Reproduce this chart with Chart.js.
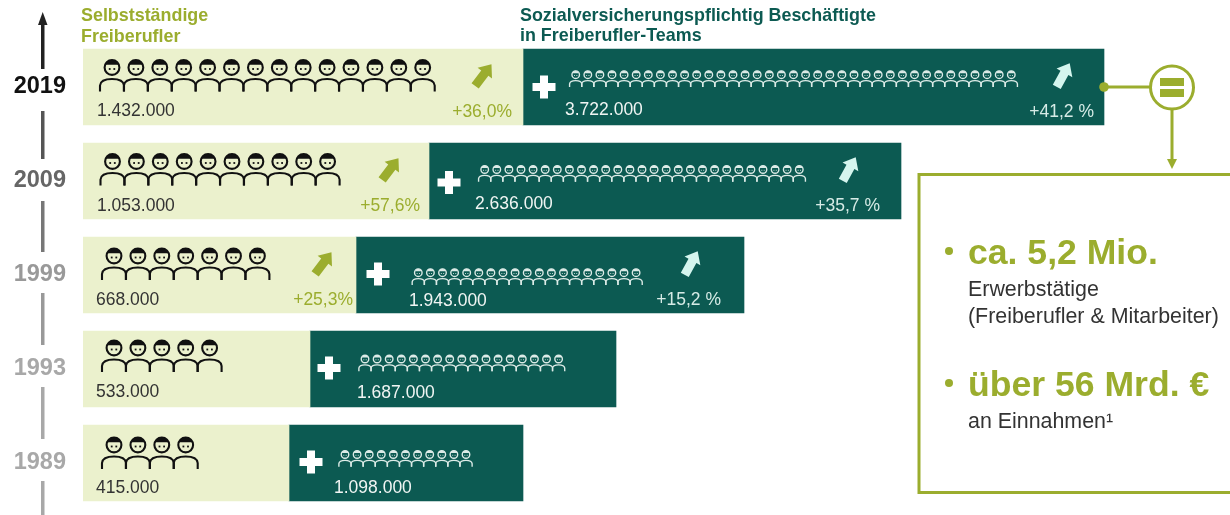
<!DOCTYPE html>
<html>
<head>
<meta charset="utf-8">
<title>Freiberufler</title>
<script src="https://cdn.jsdelivr.net/npm/chart.js@4"></script>
<style>
  html, body { margin: 0; padding: 0; background: #fff; }
  canvas { display: block; }
</style>
</head>
<body>
<canvas id="myChart" width="1230" height="515"></canvas>
<script>
const years = ['2019', '2009', '1999', '1993', '1989'];
// bars in the picture are not to scale with their labels, so lengths are read off separately
const selfLengths = [440, 346, 273, 227, 206];
const staffLengths = [581, 472, 388, 306, 234];
const selfLabels = ['1.432.000', '1.053.000', '668.000', '533.000', '415.000'];
const staffLabels = ['3.722.000', '2.636.000', '1.943.000', '1.687.000', '1.098.000'];
const selfGrowth = ['+36,0%', '+57,6%', '+25,3%', null, null];
const staffGrowth = ['+41,2 %', '+35,7 %', '+15,2 %', null, null];
const selfIcons = [14, 10, 7, 5, 4];
const staffIcons = [37, 27, 19, 17, 11];

const font = "'Liberation Sans', Arial, sans-serif";
const green = '#9bad2e';
const pale = '#ebf1cd';
const teal = '#0c5a52';
const yearColors = ['#111111', '#666666', '#999999', '#a8a8a8', '#a8a8a8'];

// row details, offsets from the bar start or the bar centre
const selfIconX = [29, 29.5, 31, 31, 31];
const selfIconY = [-19.5, -19.5, -19, -21, -18];
const staffIconX = [52.7, 55.7, 62.3, 55, 56];
const staffIconY = [-12.3, -11.5, -2.3, -10, -8.5];
const selfTextX = [14, 14, 13, 13, 13];
const selfTextY = [29, 29.5, 30, 27.5, 29.5];
const staffTextX = [42, 46, 53, 47, 45];
const staffTextY = [28, 28, 31, 29, 30];
const plusX = [21, 20, 22, 19, 22];
const plusY = [0, 1.5, -1, -1, -1];
const selfArrowX = [-40, -39, -33];
const selfGrowthX = [-11, -9, -3];
const staffArrowX = [-41, -52, -53];
const staffGrowthX = [-10, -21, -23];

function text(ctx, str, x, y, size, color, bold, align) {
  ctx.font = (bold ? 'bold ' : '') + size + 'px ' + font;
  ctx.fillStyle = color;
  ctx.textAlign = align || 'left';
  ctx.textBaseline = 'alphabetic';
  ctx.fillText(str, x, y);
}

function person(ctx, x, y, s, color, lw) {
  ctx.save();
  ctx.translate(x, y);
  ctx.scale(s, s);
  ctx.strokeStyle = color;
  ctx.fillStyle = color;
  ctx.lineWidth = lw;
  ctx.beginPath();
  ctx.arc(0, 0, 7.4, 0, Math.PI * 2);
  ctx.stroke();
  // hair
  ctx.beginPath();
  ctx.arc(0, 0, 7.4, Math.PI * 1.12, Math.PI * 1.88);
  ctx.closePath();
  ctx.fill();
  // eyes
  ctx.fillRect(-3.2, 0.6, 1.8, 1.8);
  ctx.fillRect(1.4, 0.6, 1.8, 1.8);
  // shoulders
  ctx.beginPath();
  ctx.moveTo(-12, 24);
  ctx.lineTo(-12, 18);
  ctx.bezierCurveTo(-11.5, 13, -7, 11.5, 0, 11.5);
  ctx.bezierCurveTo(7, 11.5, 11.5, 13, 12, 18);
  ctx.lineTo(12, 24);
  ctx.stroke();
  ctx.restore();
}

function upArrow(ctx, x, y, angle, color) {
  ctx.save();
  ctx.translate(x, y);
  ctx.rotate(angle);
  ctx.fillStyle = color;
  ctx.beginPath();
  ctx.moveTo(0, -14);
  ctx.lineTo(9, -3);
  ctx.lineTo(4.5, -3);
  ctx.lineTo(4.5, 13);
  ctx.lineTo(-4.5, 13);
  ctx.lineTo(-4.5, -3);
  ctx.lineTo(-9, -3);
  ctx.closePath();
  ctx.fill();
  ctx.restore();
}

const decorations = {
  id: 'decorations',
  afterDatasetsDraw(chart) {
    const ctx = chart.ctx;
    const xs = chart.scales.x;
    const ys = chart.scales.y;
    ctx.save();

    // time line next to the years
    const segs = [[20, 69, '#222222'], [111, 159, '#555555'], [201, 252, '#777777'], [293, 345, '#999999'], [387, 439, '#a8a8a8'], [481, 515, '#a8a8a8']];
    segs.forEach(s => {
      ctx.fillStyle = s[2];
      ctx.fillRect(41, s[0], 3.5, s[1] - s[0]);
    });
    ctx.fillStyle = '#222222';
    ctx.beginPath();
    ctx.moveTo(42.7, 12);
    ctx.lineTo(47.5, 25);
    ctx.lineTo(38, 25);
    ctx.closePath();
    ctx.fill();

    // headings
    text(ctx, 'Selbstständige', 81, 21, 17.9, green, true);
    text(ctx, 'Freiberufler', 81, 42, 17.9, green, true);
    text(ctx, 'Sozialversicherungspflichtig Beschäftigte', 520, 21, 17.9, teal, true);
    text(ctx, 'in Freiberufler-Teams', 520, 41, 17.9, teal, true);

    years.forEach((year, i) => {
      const cy = ys.getPixelForValue(i);
      const x0 = xs.getPixelForValue(0);
      const x1 = xs.getPixelForValue(selfLengths[i]);
      const x2 = xs.getPixelForValue(selfLengths[i] + staffLengths[i]);

      for (let n = 0; n < selfIcons[i]; n++) {
        person(ctx, x0 + selfIconX[i] + n * 23.9, cy + selfIconY[i], 1, '#111111', 2.1);
      }
      for (let n = 0; n < staffIcons[i]; n++) {
        person(ctx, x1 + staffIconX[i] + n * 12.1, cy + staffIconY[i], 0.51, '#dcebe7', 2.7);
      }

      text(ctx, selfLabels[i], x0 + selfTextX[i], cy + selfTextY[i], 17.5, '#333333');
      text(ctx, staffLabels[i], x1 + staffTextX[i], cy + staffTextY[i], 17.5, '#f0f5f3');

      // plus sign
      ctx.fillStyle = '#ffffff';
      ctx.fillRect(x1 + plusX[i] - 11.5, cy + plusY[i] - 4, 23, 8);
      ctx.fillRect(x1 + plusX[i] - 4, cy + plusY[i] - 11.5, 8, 23);

      if (selfGrowth[i]) {
        upArrow(ctx, x1 + selfArrowX[i], cy - 11.5, 0.65, green);
        text(ctx, selfGrowth[i], x1 + selfGrowthX[i], cy + 29.5, 17.5, green, false, 'right');
      }
      if (staffGrowth[i]) {
        upArrow(ctx, x2 + staffArrowX[i], cy - 11.5, 0.5, '#d5f5ee');
        text(ctx, staffGrowth[i], x2 + staffGrowthX[i], cy + 29.5, 17.5, '#d6ebe6', false, 'right');
      }
    });

    // connector and equals sign
    ctx.strokeStyle = green;
    ctx.fillStyle = green;
    ctx.lineWidth = 3;
    ctx.beginPath();
    ctx.moveTo(1104, 87);
    ctx.lineTo(1151, 87);
    ctx.moveTo(1172, 110);
    ctx.lineTo(1172, 160);
    ctx.stroke();
    ctx.beginPath();
    ctx.arc(1104, 87, 4.8, 0, Math.PI * 2);
    ctx.fill();
    ctx.beginPath();
    ctx.arc(1172, 87.5, 21.5, 0, Math.PI * 2);
    ctx.stroke();
    ctx.fillRect(1160, 78, 24, 8);
    ctx.fillRect(1160, 89, 24, 8);
    ctx.beginPath();
    ctx.moveTo(1172, 169);
    ctx.lineTo(1167, 159);
    ctx.lineTo(1177, 159);
    ctx.closePath();
    ctx.fill();

    // summary box, its right side runs off the picture
    ctx.strokeRect(919, 174.5, 330, 318);
    ctx.beginPath();
    ctx.arc(949, 251, 4, 0, Math.PI * 2);
    ctx.fill();
    ctx.beginPath();
    ctx.arc(949, 383, 4, 0, Math.PI * 2);
    ctx.fill();
    text(ctx, 'ca. 5,2 Mio.', 968, 264, 35.6, green, true);
    text(ctx, 'Erwerbstätige', 968, 296, 21.4, '#333333');
    text(ctx, '(Freiberufler & Mitarbeiter)', 968, 323, 21.4, '#333333');
    text(ctx, 'über 56 Mrd. €', 968, 396, 35.6, green, true);
    text(ctx, 'an Einnahmen¹', 968, 428, 21.4, '#333333');

    ctx.restore();
  }
};

const ctx = document.getElementById('myChart').getContext('2d');
new Chart(ctx, {
  type: 'bar',
  data: {
    labels: years,
    datasets: [
      { label: 'Selbstständige Freiberufler', data: selfLengths, backgroundColor: pale },
      { label: 'Sozialversicherungspflichtig Beschäftigte', data: staffLengths, backgroundColor: teal }
    ]
  },
  options: {
    indexAxis: 'y',
    responsive: false,
    animation: false,
    layout: { padding: { top: 40, bottom: 5, left: 0, right: 0 } },
    datasets: { bar: { barThickness: 76 } },
    plugins: { legend: { display: false }, tooltip: { enabled: false } },
    scales: {
      x: { stacked: true, min: 0, max: 1147, display: false },
      y: {
        stacked: true,
        afterFit: scale => {
          scale.width = 83;
          // tick padding would otherwise be reserved above and below the rows
          scale.paddingTop = 0;
          scale.paddingBottom = 0;
        },
        grid: { display: false, drawTicks: false },
        border: { display: false },
        ticks: {
          padding: 17,
          autoSkip: false,
          color: c => yearColors[c.index],
          font: { family: font, size: 23.5, weight: 'bold' }
        }
      }
    }
  },
  plugins: [decorations]
});
</script>
</body>
</html>
